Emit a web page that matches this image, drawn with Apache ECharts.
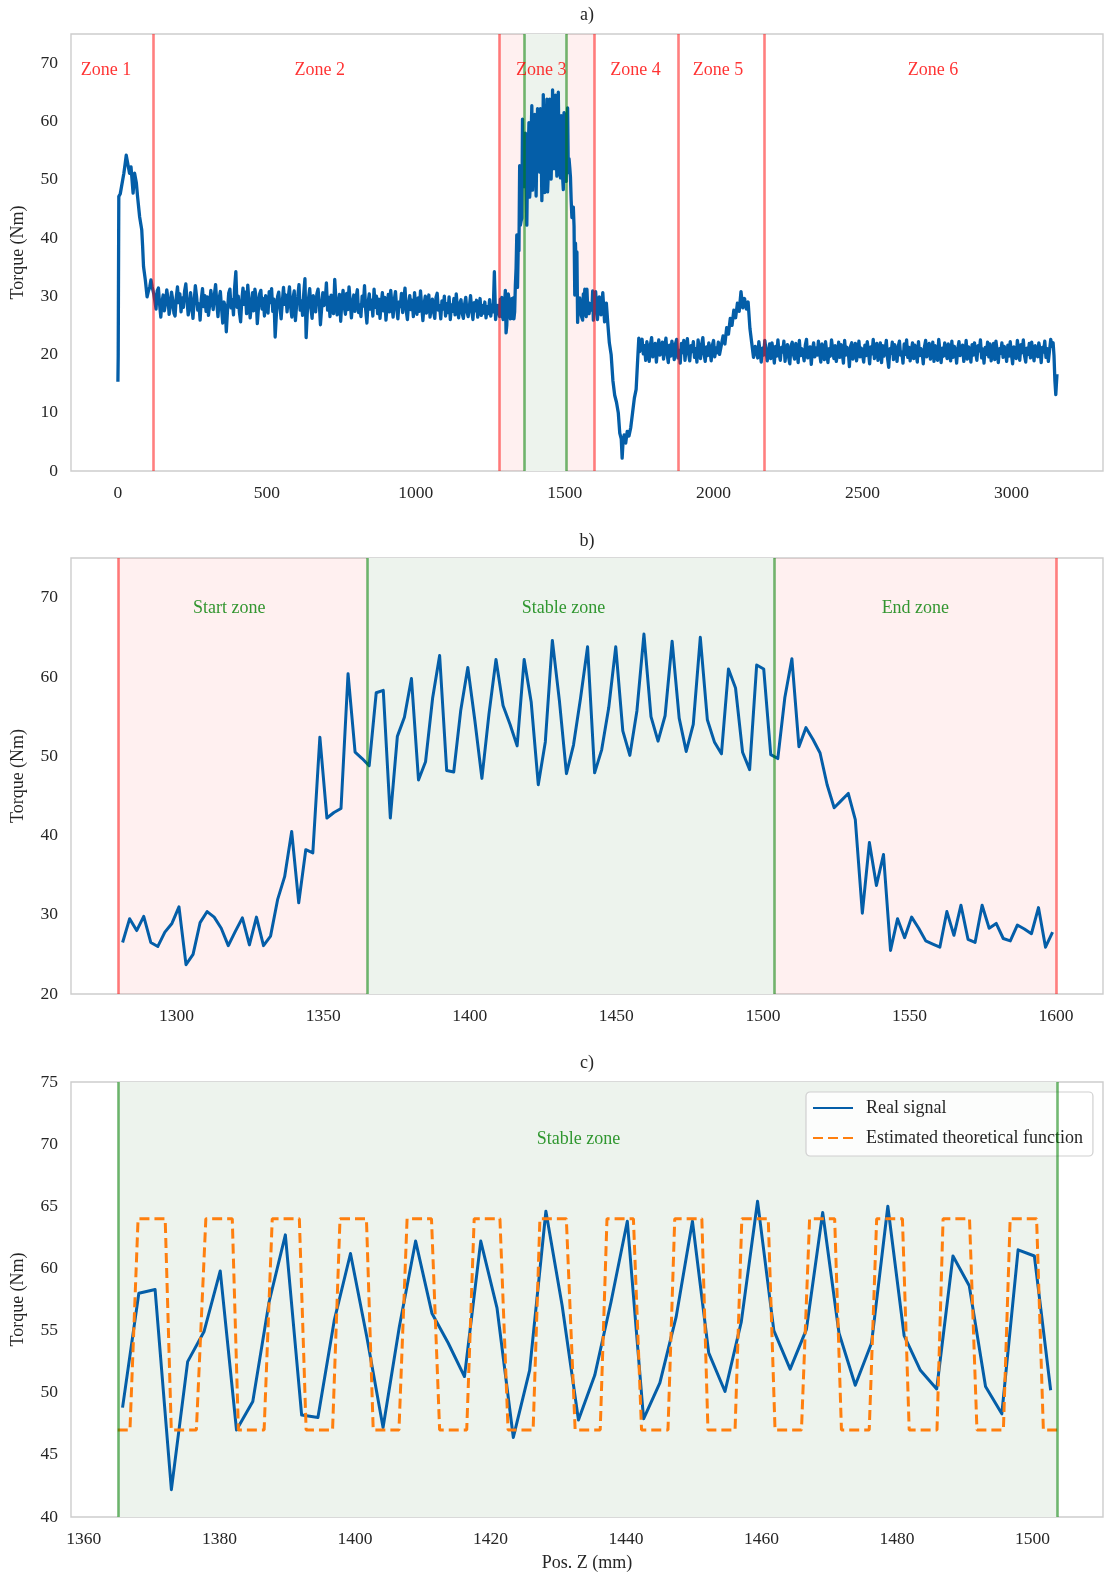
<!DOCTYPE html>
<html>
<head>
<meta charset="utf-8">
<script src="https://cdn.jsdelivr.net/npm/echarts@6/dist/echarts.min.js"></script>
<style>
  html, body { margin: 0; padding: 0; background: #ffffff; }
  #chart { width: 1104px; height: 1577px; }
</style>
</head>
<body>
<div id="chart"></div>
<script>
// ---------------- data ----------------
// Spindle torque (Nm) along the Z position (mm)

// start-up transient
const headPos = [0, 1, 3, 8, 14, 20, 24, 28, 33, 39, 44, 51, 56, 62, 66, 73, 80, 83, 86, 92, 98, 102, 107, 111, 115];
const headVal = [15.3, 19.8, 47.1, 47.6, 47.9, 51.1, 52.6, 54.2, 53.9, 51.1, 52.2, 47.7, 51.1, 49.4, 47.1, 43.6, 41.4, 38.5, 35.1, 32.8, 29.9, 30.8, 31.6, 32.8, 31.6];

// zone 2 (sampled every 4 mm from 120 mm)
const zone2Start = 120, zone2Step = 4;
const zone2Val = [
  30.5, 29.2, 27.8, 30.9, 31.4, 28.6, 26.4, 29.0, 30.2, 27.5,
  28.8, 31.1, 29.6, 26.9, 28.2, 30.7, 29.4, 27.1, 26.6, 29.8,
  31.6, 28.9, 30.4, 27.3, 29.7, 28.1, 30.9, 32.1, 29.3, 26.8,
  27.9, 30.6, 28.4, 26.2, 29.1, 31.8, 30.0, 27.6, 28.7, 25.9,
  29.5, 31.3, 28.2, 30.1, 27.4, 29.9, 26.7, 28.5, 31.0, 29.2,
  27.7, 30.3, 32.0, 28.8, 26.5, 29.6, 30.8, 27.9, 25.4, 29.0,
  28.3, 23.9, 27.6, 30.5, 31.2, 28.0, 29.4, 26.8, 31.6, 34.2,
  28.1, 30.0, 27.2, 25.6, 29.3, 31.4, 28.6, 30.7, 27.0, 31.9,
  29.1, 26.3, 28.4, 30.6, 27.5, 31.2, 29.8, 25.3, 28.0, 30.4,
  31.0, 27.8, 29.6, 26.6, 30.1, 28.3, 27.1, 30.8, 28.9, 31.3,
  27.4, 29.5, 23.0, 26.8, 29.9, 30.7, 28.2, 26.1, 29.0, 31.5,
  28.6, 30.2, 27.3, 29.8, 31.6, 28.1, 26.4, 29.7, 30.9, 25.8,
  28.5, 30.0, 32.0, 27.6, 29.2, 26.7, 30.5, 33.0, 22.9, 27.4,
  29.6, 31.3, 28.0, 26.2, 30.1, 28.7, 27.3, 30.4, 31.2, 28.9,
  25.1, 27.9, 30.6, 28.4, 29.1, 32.3, 27.6, 29.8, 26.5, 30.2,
  28.3, 27.0, 32.9, 29.4, 26.8, 28.6, 30.3, 25.7, 29.2, 31.0,
  28.1, 26.9, 30.5, 27.7, 31.6, 29.0, 26.3, 28.8, 30.2, 27.4,
  29.9, 31.1, 27.2, 28.5, 26.5, 30.0, 28.3, 31.8, 27.6, 25.4,
  28.9, 30.4, 27.8, 29.3, 26.6, 31.2, 28.1, 30.0, 27.0, 29.5,
  26.2, 28.7, 30.6, 27.5, 29.8, 25.9, 28.4, 30.3, 27.3, 31.0,
  28.6, 26.4, 29.4, 30.8, 27.9, 26.1, 29.0, 28.2, 30.5, 27.2,
  29.6, 31.4, 27.5, 26.0, 28.8, 30.1, 27.7, 29.3, 26.5, 30.6,
  28.0, 26.9, 29.7, 27.4, 30.9, 28.3, 25.8, 28.6, 30.0, 27.1,
  28.9, 30.2, 26.4, 28.1, 29.5, 27.3, 26.2, 29.8, 30.5, 27.6,
  28.4, 26.1, 29.2, 27.8, 30.0, 26.6, 28.7, 27.2, 29.9, 26.0,
  28.5, 27.4, 29.6, 26.8, 30.4, 27.9, 26.3, 28.8, 29.4, 27.0,
  26.2, 28.6, 29.8, 27.3, 26.5, 28.2, 30.1, 27.6, 26.0, 28.9,
  27.5, 29.3, 26.4, 28.0, 29.6, 26.7, 28.4, 27.1, 29.0, 26.3,
  28.2, 27.0, 29.4, 26.6, 28.5, 27.3, 34.2, 26.0, 27.9, 28.4
];

// zone 3 detail (sampled every 2.403 mm from 1281.6 mm)
const detailStart = 1281.6, detailStep = 2.403;
const detailVal = [
  26.5, 29.5, 28.0, 29.8, 26.5, 26.0, 27.8, 28.9, 31.0, 23.7,
  25.0, 29.0, 30.4, 29.7, 28.3, 26.1, 27.9, 29.6, 26.2, 29.7,
  26.1, 27.3, 31.9, 34.8, 40.5, 31.5, 38.2, 37.8, 52.4, 42.2,
  42.9, 43.4, 60.4, 50.5, 49.7, 48.8, 58.0, 58.3, 42.2, 52.5,
  54.9, 59.8, 47.0, 49.3, 57.3, 62.7, 48.2, 48.0, 55.8, 61.2,
  54.5, 47.2, 55.3, 62.2, 56.4, 54.0, 51.3, 62.2, 56.8, 46.4,
  51.8, 64.6, 57.0, 47.8, 51.4, 57.3, 63.8, 47.9, 50.8, 56.1,
  63.8, 53.2, 50.1, 55.7, 65.4, 55.0, 51.9, 55.1, 64.5, 54.8,
  50.6, 54.0, 65.0, 54.6, 51.8, 50.3, 61.0, 58.6, 50.5, 48.3,
  61.5, 61.0, 50.2, 49.7, 57.4, 62.3, 51.2, 53.6, 52.1, 50.4,
  46.4, 43.5, 44.4, 45.3, 42.0, 30.2, 39.1, 33.7, 37.6, 25.5,
  29.5, 27.1, 29.7, 28.3, 26.7, 26.3, 25.9, 30.4, 27.4, 31.2,
  26.9, 26.5, 31.2, 28.3, 28.9, 27.0, 26.7, 28.7, 28.2, 27.6,
  30.9, 25.9, 27.8
];
// indices of the stable-zone samples inside detailVal
const stableFirst = 35, stableLast = 92;

// zone 4 dip
const dipPos = [1604, 1610, 1616, 1622, 1628, 1634, 1640, 1645, 1650, 1656, 1662, 1668, 1674, 1680, 1685, 1690, 1693, 1696, 1700, 1705, 1710, 1716, 1722, 1728, 1734, 1740, 1745, 1749, 1752, 1756];
const dipVal = [30.8, 26.0, 29.9, 26.8, 30.6, 25.6, 28.8, 25.2, 22.0, 20.0, 15.5, 13.0, 11.8, 10.0, 6.5, 5.5, 2.2, 5.0, 6.2, 4.8, 6.8, 6.0, 7.5, 10.0, 12.5, 14.0, 19.0, 22.8, 20.5, 22.0];

// zone 4/5 plateau (every 4 mm from 1760 mm)
const zone5Start = 1760, zone5Step = 4;
const zone5Val = [
  22.6, 20.1, 21.5, 19.0, 22.2, 20.8, 18.8, 21.7, 22.9, 19.6,
  20.4, 21.9, 18.7, 21.1, 22.5, 19.9, 20.6, 22.1, 19.2, 21.4,
  22.8, 20.0, 18.6, 21.6, 19.7, 22.3, 20.9, 19.1, 21.8, 22.6,
  19.4, 20.7, 18.5, 21.9, 20.3, 22.4, 19.0, 21.2, 22.7, 20.2,
  18.9, 21.5, 20.5, 22.2, 19.5, 21.0, 18.7, 22.5, 20.8, 19.3,
  21.7, 22.9, 20.1, 18.8, 21.3, 19.8, 22.0, 20.6, 18.9, 21.6,
  22.4, 19.6, 21.1, 20.3, 22.1, 20.0
];

// zone 5 bump
const bumpPos = [2026, 2032, 2038, 2044, 2050, 2056, 2062, 2068, 2074, 2080, 2086, 2092, 2098, 2104, 2110, 2116, 2122, 2128, 2134, 2140];
const bumpVal = [20.0, 23.2, 21.8, 24.6, 23.5, 26.2, 25.0, 27.6, 26.3, 28.8, 27.4, 30.8, 28.0, 29.6, 27.8, 29.0, 24.5, 22.0, 19.5, 21.4];

// zone 6 (every 4 mm from 2144 mm)
const zone6Start = 2144, zone6Step = 4;
const zone6Val = [
  21.6, 19.4, 22.2, 20.5, 18.7, 21.1, 19.9, 22.4, 20.8, 18.9,
  20.2, 21.8, 19.3, 22.0, 20.6, 18.5, 21.4, 19.7, 22.5, 20.1,
  19.0, 21.2, 20.4, 22.3, 18.8, 20.9, 21.7, 19.5, 18.4, 21.5,
  22.1, 20.0, 19.2, 21.9, 20.7, 18.6, 22.4, 19.8, 21.0, 20.3,
  18.9, 21.6, 22.6, 19.4, 20.5, 21.3, 18.3, 20.8, 22.0, 19.6,
  21.1, 19.9, 22.3, 20.2, 18.7, 21.8, 20.6, 19.1, 22.2, 20.4,
  18.6, 21.0, 19.7, 22.5, 20.9, 19.3, 21.5, 18.8, 20.1, 22.1,
  19.5, 21.7, 20.3, 18.5, 22.4, 19.9, 21.2, 20.7, 17.9, 21.4,
  22.0, 19.2, 20.6, 21.9, 18.9, 20.4, 22.3, 19.6, 21.1, 20.0,
  18.7, 21.6, 19.8, 22.2, 20.5, 18.4, 21.3, 20.1, 22.6, 19.3,
  20.8, 21.9, 19.0, 20.3, 22.0, 18.6, 21.5, 19.7, 20.9, 22.4,
  19.4, 17.8, 21.0, 20.2, 22.1, 19.1, 21.7, 20.6, 18.8, 21.4,
  22.3, 19.9, 20.4, 18.5, 21.8, 20.0, 22.5, 19.5, 21.2, 18.9,
  20.7, 22.0, 19.3, 21.6, 20.1, 18.7, 22.2, 19.8, 21.0, 20.5,
  18.4, 21.3, 22.4, 19.6, 20.8, 21.9, 19.2, 20.3, 22.1, 18.8,
  21.5, 20.2, 19.0, 22.6, 20.6, 18.6, 21.1, 19.7, 22.0, 20.4,
  19.3, 21.8, 20.0, 18.9, 22.3, 19.5, 21.4, 20.7, 18.5, 21.0,
  22.2, 19.8, 20.5, 21.6, 18.8, 20.1, 22.4, 19.2, 21.3, 20.8,
  18.7, 21.7, 19.9, 22.0, 20.3, 19.0, 21.5, 20.6, 22.5, 19.4,
  20.9, 18.5, 21.2, 20.0, 22.1, 19.6, 21.8, 18.9, 20.4, 21.9,
  19.1, 22.3, 20.7, 18.6, 21.0, 20.2, 22.0, 19.5, 21.4, 20.5,
  18.8, 21.6, 19.7, 22.2, 20.1, 18.4, 21.3, 20.8, 19.3, 22.4,
  20.6, 19.0, 21.7, 20.3, 22.5, 19.8, 18.7, 21.1, 20.0, 21.9,
  19.4, 22.1, 20.5, 18.9, 21.5, 20.2, 19.6, 22.0, 20.9, 18.6,
  21.2, 20.4, 22.3, 19.5, 21.0, 18.8, 20.7, 22.6, 21.4, 22.0
];

// tool exit
const endPos = [3143, 3146, 3149, 3151, 3153];
const endVal = [19.8, 15.5, 13.1, 13.0, 16.6];

// estimated theoretical function in the stable zone
const theoPos = [
  1365.0, 1366.8,
  1368.0, 1372.0, 1372.9, 1376.6,
  1378.0, 1381.9, 1382.8, 1386.6,
  1387.8, 1391.8, 1392.8, 1396.7,
  1397.8, 1401.7, 1402.7, 1406.5,
  1407.7, 1411.3, 1412.5, 1416.5,
  1417.6, 1421.4, 1422.6, 1426.3,
  1427.3, 1431.2, 1432.5, 1436.2,
  1437.2, 1441.1, 1442.3, 1446.2,
  1447.2, 1451.2, 1452.1, 1456.1,
  1457.1, 1461.0, 1462.0, 1465.9,
  1467.1, 1470.8, 1471.8, 1475.9,
  1477.0, 1480.8, 1481.8, 1485.9,
  1486.8, 1490.7, 1491.8, 1495.7,
  1496.7, 1500.6, 1501.6, 1503.7
];
const theoVal = [
  47.0, 47.0,
  64.0, 64.0, 47.0, 47.0,
  64.0, 64.0, 47.0, 47.0,
  64.0, 64.0, 47.0, 47.0,
  64.0, 64.0, 47.0, 47.0,
  64.0, 64.0, 47.0, 47.0,
  64.0, 64.0, 47.0, 47.0,
  64.0, 64.0, 47.0, 47.0,
  64.0, 64.0, 47.0, 47.0,
  64.0, 64.0, 47.0, 47.0,
  64.0, 64.0, 47.0, 47.0,
  64.0, 64.0, 47.0, 47.0,
  64.0, 64.0, 47.0, 47.0,
  64.0, 64.0, 47.0, 47.0,
  64.0, 64.0, 47.0, 47.0
];

// zone boundaries (mm)
const zoneEdges = [120, 1280, 1600, 1880, 2170];
const stableEdges = [1365, 1503.7];
const zoneNames = ['Zone 1', 'Zone 2', 'Zone 3', 'Zone 4', 'Zone 5', 'Zone 6'];
const detailZoneNames = ['Start zone', 'Stable zone', 'End zone'];

// annotation anchors (mm, Nm)
const zoneLabelPosA = [-40, 678, 1421, 1738, 2015, 2737];
const zoneLabelLevelA = 68.8;
const zoneLabelPosB = [1318, 1432, 1552];
const zoneLabelLevelB = 68.7;
const zoneLabelPosC = [1433];
const zoneLabelLevelC = 70.4;

// tick labels
const ticksAx = [0, 500, 1000, 1500, 2000, 2500, 3000];
const ticksAy = [0, 10, 20, 30, 40, 50, 60, 70];
const ticksBx = [1300, 1350, 1400, 1450, 1500, 1550, 1600];
const ticksBy = [20, 30, 40, 50, 60, 70];
const ticksCx = [1360, 1380, 1400, 1420, 1440, 1460, 1480, 1500];
const ticksCy = [40, 45, 50, 55, 60, 65, 70, 75];

// ---------------- helpers ----------------
const FONT = '"Liberation Serif", "Times New Roman", serif';
const INK = '#262626';
const BLUE = '#045ea8';
const ORANGE = '#ff7f0e';
const RED_LINE = 'rgba(255,0,0,0.5)';
const GREEN_LINE = 'rgba(0,128,0,0.55)';
const PINK_FILL = 'rgba(255,0,0,0.06)';
const GREEN_FILL = '#edf3ed';

function zipPairs(pos, val) { return pos.map((p, i) => [p, val[i]]); }
function gridPairs(start, step, val) { return val.map((v, i) => [+(start + i * step).toFixed(3), v]); }

const detailPairs = gridPairs(detailStart, detailStep, detailVal);
const signalA = [].concat(
  zipPairs(headPos, headVal),
  gridPairs(zone2Start, zone2Step, zone2Val),
  detailPairs,
  zipPairs(dipPos, dipVal),
  gridPairs(zone5Start, zone5Step, zone5Val),
  zipPairs(bumpPos, bumpVal),
  gridPairs(zone6Start, zone6Step, zone6Val),
  zipPairs(endPos, endVal)
);
const signalC = detailPairs.slice(stableFirst, stableLast + 1);
const theoPairs = zipPairs(theoPos, theoVal);

// axis extents (5 % margins around the data spans)
const axA = [-157.5, 3307.5];
const axB = [1264, 1616];
const axC = [1358.1, 1510.4];

const gridBox = [
  { top: 34, height: 437 },
  { top: 558, height: 436 },
  { top: 1082, height: 435 }
];

const plainNumber = v => String(v);

function xAxisCfg(gi, ext, ticks, name) {
  const cfg = {
    type: 'value', gridIndex: gi, min: ext[0], max: ext[1],
    axisLine: { show: false }, axisTick: { show: false }, splitLine: { show: false },
    axisLabel: { customValues: ticks, formatter: plainNumber, margin: 13, color: INK, fontSize: 17.5, fontFamily: FONT }
  };
  if (name) {
    cfg.name = name; cfg.nameLocation = 'middle'; cfg.nameGap = 37;
    cfg.nameTextStyle = { color: INK, fontSize: 18, fontFamily: FONT };
  }
  return cfg;
}
function yAxisCfg(gi, min, max, ticks) {
  return {
    type: 'value', gridIndex: gi, min: min, max: max,
    axisLine: { show: false }, axisTick: { show: false }, splitLine: { show: false },
    axisLabel: { customValues: ticks, formatter: plainNumber, margin: 13, color: INK, fontSize: 17.5, fontFamily: FONT },
    name: 'Torque (Nm)', nameLocation: 'middle', nameGap: 44,
    nameTextStyle: { color: INK, fontSize: 18, fontFamily: FONT }
  };
}

// shaded zones, drawn under the signal
function areaSeries(gi, anchor, areas) {
  return {
    type: 'line', xAxisIndex: gi, yAxisIndex: gi, data: [anchor], symbol: 'none',
    lineStyle: { opacity: 0 }, silent: true, z: 1,
    markArea: { silent: true, data: areas.map(a => [{ xAxis: a[0], itemStyle: { color: a[2] } }, { xAxis: a[1] }]) }
  };
}
// vertical boundary lines, drawn over the signal
function boundarySeries(gi, anchor, lines) {
  return {
    type: 'line', xAxisIndex: gi, yAxisIndex: gi, data: [anchor], symbol: 'none',
    lineStyle: { opacity: 0 }, silent: true, z: 6,
    markLine: {
      silent: true, symbol: ['none', 'none'], label: { show: false },
      data: lines.map(l => ({ xAxis: l[0], lineStyle: { color: l[1], width: 2.6, type: 'solid' } }))
    }
  };
}
function labelSeries(gi, names, xs, level, color) {
  return {
    type: 'scatter', xAxisIndex: gi, yAxisIndex: gi, symbolSize: 0, silent: true, z: 7,
    itemStyle: { color: 'transparent' },
    label: { show: true, position: 'inside', formatter: '{b}', color: color, fontSize: 18, fontFamily: FONT },
    data: names.map((n, i) => ({ name: n, value: [xs[i], level] }))
  };
}

const titleStyle = { color: INK, fontSize: 18, fontWeight: 'normal', fontFamily: FONT };

const option = {
  animation: false,
  backgroundColor: '#ffffff',
  title: [
    { text: 'a)', left: 587, top: 6, textAlign: 'center', padding: 0, textStyle: titleStyle },
    { text: 'b)', left: 587, top: 532, textAlign: 'center', padding: 0, textStyle: titleStyle },
    { text: 'c)', left: 587, top: 1054, textAlign: 'center', padding: 0, textStyle: titleStyle }
  ],
  legend: {
    data: ['Real signal', 'Estimated theoretical function'],
    orient: 'vertical', left: 806, top: 1092,
    padding: [7, 10, 9, 6], itemGap: 12, itemWidth: 40, itemHeight: 14,
    itemStyle: { opacity: 0 },
    backgroundColor: 'rgba(255,255,255,0.8)', borderColor: '#d0d0d0', borderWidth: 1.2, borderRadius: 4,
    textStyle: { color: INK, fontSize: 18, fontFamily: FONT, padding: [0, 0, 0, 8] },
    selectedMode: false
  },
  grid: gridBox.map(g => ({
    left: 71, width: 1032, top: g.top, height: g.height, show: true,
    borderColor: '#cdcdcd', borderWidth: 1.4, backgroundColor: 'transparent', containLabel: false
  })),
  xAxis: [
    xAxisCfg(0, axA, ticksAx),
    xAxisCfg(1, axB, ticksBx),
    xAxisCfg(2, axC, ticksCx, 'Pos. Z (mm)')
  ],
  yAxis: [
    yAxisCfg(0, 0, 75, ticksAy),
    yAxisCfg(1, 20, 75, ticksBy),
    yAxisCfg(2, 40, 75, ticksCy)
  ],
  series: [
    // ---- panel a ----
    areaSeries(0, [0, 20], [
      [zoneEdges[1], zoneEdges[2], PINK_FILL],
      [stableEdges[0], stableEdges[1], GREEN_FILL]
    ]),
    {
      name: 'Torque', type: 'line', xAxisIndex: 0, yAxisIndex: 0, data: signalA,
      symbol: 'none', z: 3, lineStyle: { color: BLUE, width: 3.3, join: 'round' }, itemStyle: { color: BLUE }
    },
    boundarySeries(0, [0, 20], [
      [zoneEdges[0], RED_LINE], [zoneEdges[1], RED_LINE], [zoneEdges[2], RED_LINE],
      [zoneEdges[3], RED_LINE], [zoneEdges[4], RED_LINE],
      [stableEdges[0], GREEN_LINE], [stableEdges[1], GREEN_LINE]
    ]),
    labelSeries(0, zoneNames, zoneLabelPosA, zoneLabelLevelA, '#ff0000'),

    // ---- panel b ----
    areaSeries(1, [1300, 30], [
      [zoneEdges[1], stableEdges[0], PINK_FILL],
      [stableEdges[0], stableEdges[1], GREEN_FILL],
      [stableEdges[1], zoneEdges[2], PINK_FILL]
    ]),
    {
      name: 'Torque detail', type: 'line', xAxisIndex: 1, yAxisIndex: 1, data: detailPairs,
      symbol: 'none', z: 3, lineStyle: { color: BLUE, width: 3, join: 'round' }, itemStyle: { color: BLUE }
    },
    boundarySeries(1, [1300, 30], [
      [zoneEdges[1], RED_LINE], [zoneEdges[2], RED_LINE],
      [stableEdges[0], GREEN_LINE], [stableEdges[1], GREEN_LINE]
    ]),
    labelSeries(1, detailZoneNames, zoneLabelPosB, zoneLabelLevelB, '#008000'),

    // ---- panel c ----
    areaSeries(2, [1400, 50], [
      [stableEdges[0], stableEdges[1], GREEN_FILL]
    ]),
    {
      name: 'Real signal', type: 'line', xAxisIndex: 2, yAxisIndex: 2, data: signalC,
      symbol: 'none', z: 3, lineStyle: { color: BLUE, width: 3, join: 'round' }, itemStyle: { color: BLUE }
    },
    {
      name: 'Estimated theoretical function', type: 'line', xAxisIndex: 2, yAxisIndex: 2, data: theoPairs,
      symbol: 'none', z: 4, lineStyle: { color: ORANGE, width: 3, type: [10, 5] }, itemStyle: { color: ORANGE }
    },
    boundarySeries(2, [1400, 50], [
      [stableEdges[0], GREEN_LINE], [stableEdges[1], GREEN_LINE]
    ]),
    labelSeries(2, ['Stable zone'], zoneLabelPosC, zoneLabelLevelC, '#008000')
  ]
};

const chart = echarts.init(document.getElementById('chart'), null, { renderer: 'canvas' });
chart.setOption(option);
</script>
</body>
</html>
